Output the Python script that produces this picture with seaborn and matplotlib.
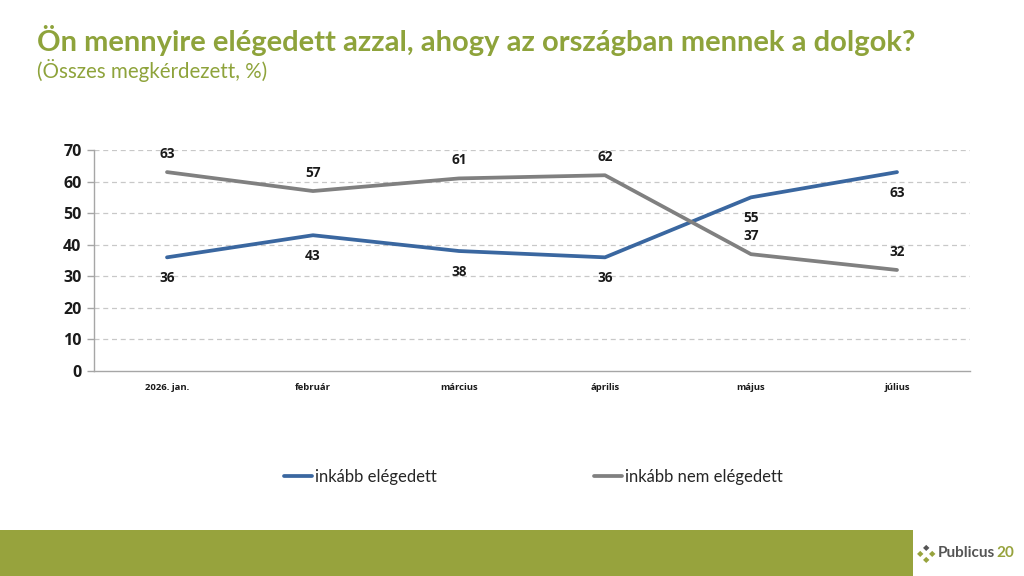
import matplotlib
matplotlib.use("Agg")
import matplotlib.pyplot as plt
import seaborn as sns
import pandas as pd
from matplotlib.patches import Rectangle

categories = ["2026. jan.", "február", "március", "április", "május", "július"]
satisfied = [36, 43, 38, 36, 55, 63]
not_satisfied = [63, 57, 61, 62, 37, 32]
series_names = ["inkább elégedett", "inkább nem elégedett"]
yticks = [0, 10, 20, 30, 40, 50, 60, 70]

title = "Ön mennyire elégedett azzal, ahogy az országban mennek a dolgok?"
subtitle = "(Összes megkérdezett, %)"

sns.set_theme(style="white")
plt.rcParams["font.family"] = ["Lato", "DejaVu Sans"]

df = pd.DataFrame({
    "cat": categories * 2,
    "x": list(range(len(categories))) * 2,
    "val": satisfied + not_satisfied,
    "series": [series_names[0]] * len(categories) + [series_names[1]] * len(categories),
})

blue = "#3A67A0"
gray = "#808080"
green_title = "#8EA33B"
green_bar = "#97A33D"
numfont = ["Open Sans", "DejaVu Sans"]

fig = plt.figure(figsize=(10.24, 5.76), dpi=100)
ax = fig.add_axes([94 / 1024, 1 - 371 / 576, (970 - 94) / 1024, (371 - 150) / 576])

sns.lineplot(data=df, x="x", y="val", hue="series", palette=[blue, gray],
             linewidth=2.7, ax=ax, legend=True)

ax.set_xlim(-0.5, len(categories) - 0.5)
ax.set_ylim(0, 70)
ax.set_yticks(yticks)
ax.set_yticklabels([str(t) for t in yticks], fontsize=11.5, fontweight="bold",
                   color="#1a1a1a", family=numfont)
ax.set_xticks(range(len(categories)))
ax.set_xticklabels(categories, fontsize=6.8, fontweight="bold", color="#1a1a1a", family=numfont)
ax.set_xticks([i + 0.5 for i in range(-1, len(categories))], minor=True)
ax.tick_params(axis="x", which="major", length=0, pad=9)
ax.tick_params(axis="x", which="minor", length=5, color="#a6a6a6", width=1)
ax.tick_params(axis="y", length=5, color="#a6a6a6", width=1, left=True, pad=4)
ax.set_xlabel("")
ax.set_ylabel("")

for t in yticks[1:]:
    ax.axhline(t, color="#c8c8c8", linestyle=(0, (4, 3)), linewidth=0.9, zorder=0)

for s in ["top", "right"]:
    ax.spines[s].set_visible(False)
for s in ["left", "bottom"]:
    ax.spines[s].set_color("#a6a6a6")
    ax.spines[s].set_linewidth(1)

for i, v in enumerate(satisfied):
    ax.annotate(str(v), (i, v), xytext=(0, -15), textcoords="offset points",
                ha="center", va="center", fontsize=9.8, fontweight="bold", color="#1a1a1a",
                family=numfont)
for i, v in enumerate(not_satisfied):
    ax.annotate(str(v), (i, v), xytext=(0, 13), textcoords="offset points",
                ha="center", va="center", fontsize=9.8, fontweight="bold", color="#1a1a1a",
                family=numfont)

handles, labels = ax.get_legend_handles_labels()
ax.get_legend().remove()
fig.legend(handles, labels, loc="center", bbox_to_anchor=(533 / 1024, 1 - 477 / 576),
           ncol=2, frameon=False, fontsize=12, handlelength=1.7, handletextpad=0.15,
           columnspacing=9.45)

fig.text(37 / 1024, 1 - 40 / 576, title, fontsize=21, fontweight="bold",
         color=green_title, ha="left", va="center")
fig.text(37 / 1024, 1 - 70 / 576, subtitle, fontsize=14.8, color=green_title,
         ha="left", va="center")

fig.patches.append(Rectangle((0, 0), 913 / 1024, 46 / 576, transform=fig.transFigure,
                             facecolor=green_bar, edgecolor="none", zorder=0))
fig.text(938 / 1024, 1 - 553 / 576, "Publicus", fontsize=11, fontweight="bold",
         color="#555555", ha="left", va="center")
fig.text(996 / 1024, 1 - 553 / 576, "20", fontsize=11, fontweight="bold",
         color=green_bar, ha="left", va="center")
for dx, dy in [(926, 548), (932, 554), (926, 560), (920, 554)]:
    fig.text(dx / 1024, 1 - dy / 576, "◆", fontsize=6, color=green_bar if (dx, dy) != (926, 548) else "#555555",
             ha="center", va="center")

fig.savefig("out.png", dpi=100)
